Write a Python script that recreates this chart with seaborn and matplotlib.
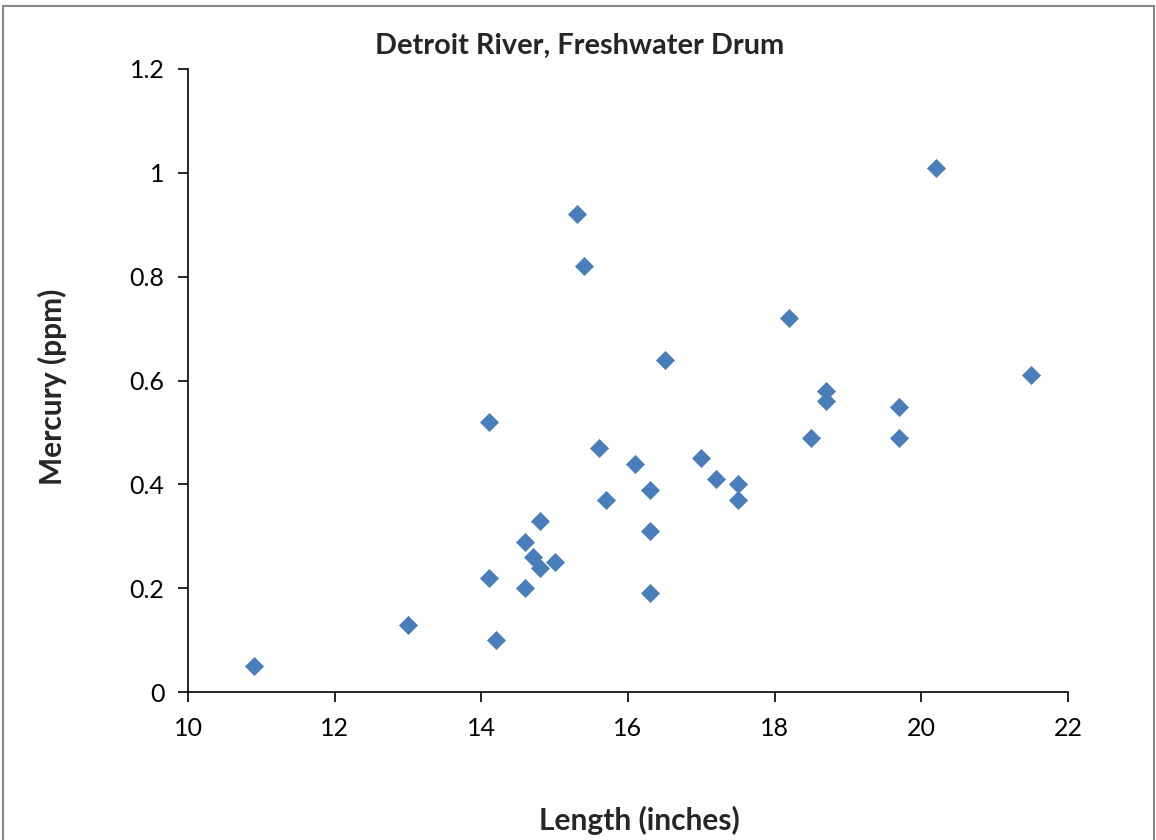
import matplotlib
matplotlib.use("Agg")
import matplotlib.pyplot as plt
import seaborn as sns
import pandas as pd
from matplotlib.patches import Rectangle

length = [10.9, 13.0, 14.1, 14.1, 14.2, 14.6, 14.6, 14.7, 14.8, 14.8, 15.0, 15.3, 15.4,
          15.6, 15.7, 16.1, 16.3, 16.3, 16.3, 16.5, 17.0, 17.2, 17.5, 17.5, 18.2, 18.5,
          18.7, 18.7, 19.7, 19.7, 20.2, 21.5]
mercury = [0.05, 0.13, 0.22, 0.52, 0.10, 0.20, 0.29, 0.26, 0.24, 0.33, 0.25, 0.92, 0.82,
           0.47, 0.37, 0.44, 0.39, 0.31, 0.19, 0.64, 0.45, 0.41, 0.40, 0.37, 0.72, 0.49,
           0.58, 0.56, 0.55, 0.49, 1.01, 0.61]
x_ticks = [10, 12, 14, 16, 18, 20, 22]
y_ticks = [0, 0.2, 0.4, 0.6, 0.8, 1, 1.2]
y_tick_labels = ["0", "0.2", "0.4", "0.6", "0.8", "1", "1.2"]

df = pd.DataFrame({"Length": length, "Mercury": mercury})

sns.set_style("white")
plt.rcParams["font.family"] = ["Lato", "DejaVu Sans"]

fig = plt.figure(figsize=(11.56, 8.4), dpi=100)
ax = fig.add_axes([0.1626, 0.176, 0.9239 - 0.1626, 0.9179 - 0.176])

sns.scatterplot(data=df, x="Length", y="Mercury", ax=ax, marker="D", s=85,
                color="#4A7EBB", edgecolor="#4A7EBB", linewidth=0.5, zorder=3)

ax.set_xlim(10, 22)
ax.set_ylim(0, 1.2)
ax.set_xticks(x_ticks)
ax.set_xticklabels([str(t) for t in x_ticks])
ax.set_yticks(y_ticks)
ax.set_yticklabels(y_tick_labels)
ax.tick_params(axis="both", which="major", labelsize=18, direction="out", length=7,
               width=1.2, color="black", labelcolor="black", left=True, bottom=True)
ax.tick_params(axis="y", pad=10)
ax.tick_params(axis="x", pad=11)
for side in ["top", "right"]:
    ax.spines[side].set_visible(False)
for side in ["left", "bottom"]:
    ax.spines[side].set_color("black")
    ax.spines[side].set_linewidth(1.2)

ax.set_xlabel("")
ax.set_ylabel("")
fig.text(0.5018, 0.945, "Detroit River, Freshwater Drum", ha="center", va="center",
         fontsize=20.8, fontweight="bold")
fig.text(0.553, 0.023, "Length (inches)", ha="center", va="center",
         fontsize=21.5, fontweight="bold")
fig.text(0.045, 0.54, "Mercury (ppm)", ha="center", va="center", rotation=90,
         fontsize=21.5, fontweight="bold")

fig.patches.append(Rectangle((0.003, -0.01), 0.995, 1.003, transform=fig.transFigure,
                             fill=False, edgecolor="#868686", linewidth=1.5))

fig.savefig("out.png", dpi=100)
